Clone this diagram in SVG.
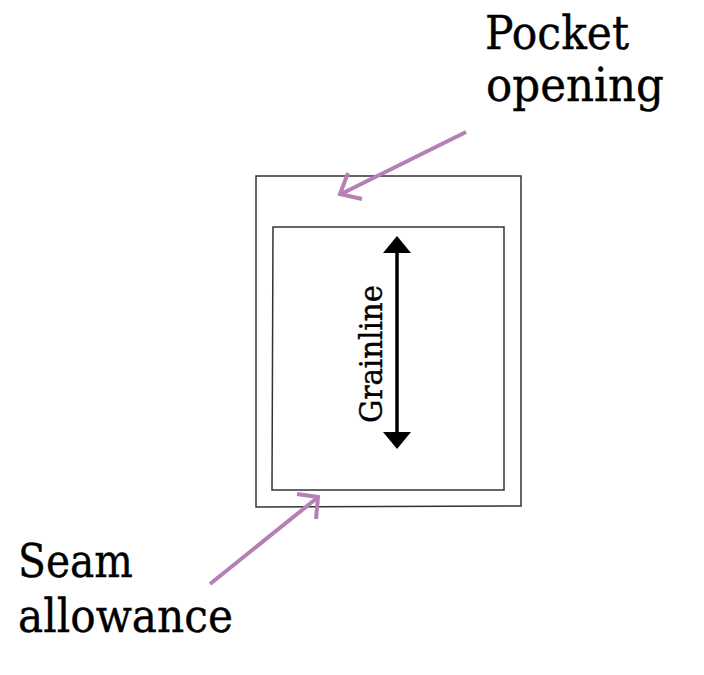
<svg xmlns="http://www.w3.org/2000/svg" width="704" height="675" viewBox="0 0 704 675">
<style>
.lbl{font-family:"DejaVu Serif","Liberation Serif",serif;fill:#000;stroke:#000;stroke-width:0.4;}
.big{font-size:47px;}
.rect{fill:none;stroke:#333;stroke-width:1.5;}
.purple{fill:none;stroke:#b67fb6;stroke-width:4;stroke-linecap:butt;stroke-linejoin:miter;}
</style>
<rect width="704" height="675" fill="#fff"/>
<g id="outer-piece">
<polygon class="rect" points="256,176 521,176 521,506 256,507"/>
</g>
<g id="inner-piece">
<polygon class="rect" points="273,227 504,227 504,490 272,490"/>
</g>
<g id="grainline">
<line x1="397" y1="250" x2="397" y2="435" stroke="#000" stroke-width="3.5"/>
<polygon points="397,236 411,253 383,253" fill="#000"/>
<polygon points="397,449 411,432 383,432" fill="#000"/>
<text class="lbl" transform="translate(382,423) rotate(-90)" font-size="31" textLength="138" lengthAdjust="spacingAndGlyphs">Grainline</text>
</g>
<g id="pocket-opening">
<text class="lbl big" x="485" y="49" textLength="144" lengthAdjust="spacingAndGlyphs">Pocket</text>
<text class="lbl big" x="486" y="101" textLength="178" lengthAdjust="spacingAndGlyphs">opening</text>
</g>
<g id="seam-allowance">
<text class="lbl big" x="18" y="577" textLength="115" lengthAdjust="spacingAndGlyphs">Seam</text>
<text class="lbl big" x="18" y="632" textLength="215" lengthAdjust="spacingAndGlyphs">allowance</text>
</g>
<g id="connectors">
<line class="purple" x1="466" y1="132" x2="341" y2="194"/>
<polyline class="purple" points="348,173 340,194 362,199"/>
<line class="purple" x1="210" y1="584" x2="317" y2="498"/>
<polyline class="purple" points="297,494 318,497 316,519"/>
</g>
</svg>
